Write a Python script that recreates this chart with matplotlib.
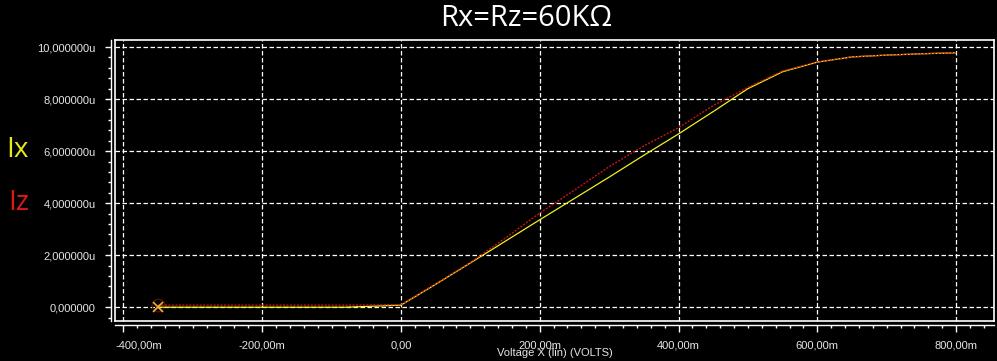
import matplotlib
matplotlib.use("Agg")
import matplotlib.pyplot as plt
from matplotlib.ticker import MultipleLocator, FixedLocator
import matplotlib.transforms as mtransforms

# ---- data (mV, µA) ----
voltage_mv = [-350, -80, 0, 50, 100, 150, 200, 250, 300, 350, 400, 450, 500, 550, 600, 650, 700, 750, 800]
ix_ua = [0.0, 0.0, 0.08, 0.88, 1.70, 2.53, 3.36, 4.18, 5.00, 5.84, 6.66, 7.52, 8.40, 9.05, 9.42, 9.62, 9.69, 9.74, 9.78]
iz_ua = [0.08, 0.08, 0.10, 0.90, 1.72, 2.65, 3.62, 4.50, 5.40, 6.20, 6.90, 7.75, 8.45, 9.08, 9.43, 9.62, 9.69, 9.74, 9.79]
marker_v = [-350]
marker_i = [0.02]

x_ticks = [-400, -200, 0, 200, 400, 600, 800]
x_labels = ["-400,00m", "-200,00m", "0,00", "200,00m", "400,00m", "600,00m", "800,00m"]
y_ticks = [0, 2, 4, 6, 8, 10]
y_labels = ["0,000000", "2,000000u", "4,000000u", "6,000000u", "8,000000u", "10,000000u"]

title = "Rx=Rz=60KΩ"
xlabel = "Voltage X (lin) (VOLTS)"

W, H = 997, 361
fig = plt.figure(figsize=(W / 100, H / 100), dpi=100, facecolor="black")

L, R, T, B = 115, 994, 40, 320.5
pos = [L / W, (H - B) / H, (R - L) / W, (B - T) / H]
xlim = (-412, 854.6)
ylim = (-0.51, 10.27)

ax = fig.add_axes(pos)
ax.set_facecolor("black")
ax.set_xlim(*xlim)
ax.set_ylim(*ylim)
for s in ax.spines.values():
    s.set_color("white")
    s.set_linewidth(1.2)
ax.tick_params(left=False, bottom=False, labelleft=False, labelbottom=False)
ax.xaxis.set_major_locator(FixedLocator(x_ticks))
ax.yaxis.set_major_locator(FixedLocator(y_ticks))
ax.grid(True, color="white", linestyle=(0, (3.6, 2.0)), linewidth=0.9)

# curves
ax.plot(voltage_mv, ix_ua, color="#f0f020", linewidth=0.9, zorder=3)
ax.plot(voltage_mv, iz_ua, color="#c81414", linewidth=1.0, linestyle=(0, (1.5, 1.0)), zorder=4)
ax.plot(marker_v, [0.09], marker="o", markersize=9, mfc="none", mec="#4a1208", mew=1.0, zorder=2)
ax.plot(marker_v, marker_i, marker="x", markersize=7, color="#f2b030", mew=1.2, linestyle="none", zorder=5)

# separate axis lines with ticks
ax2 = fig.add_axes(pos, sharex=ax, sharey=ax)
ax2.patch.set_visible(False)
for k in ("top", "right"):
    ax2.spines[k].set_visible(False)
ax2.spines["left"].set_position(("outward", 3))
ax2.spines["bottom"].set_position(("outward", 3))
for k in ("left", "bottom"):
    ax2.spines[k].set_color("white")
    ax2.spines[k].set_linewidth(1.0)
ax2.xaxis.set_major_locator(FixedLocator(x_ticks))
ax2.xaxis.set_minor_locator(MultipleLocator(20))
ax2.yaxis.set_major_locator(FixedLocator(y_ticks))
ax2.yaxis.set_minor_locator(MultipleLocator(0.4))
ax2.set_yticklabels(y_labels)
ax2.set_xticklabels([])
ax2.tick_params(axis="y", which="major", direction="out", length=4, width=1, color="white",
                labelcolor="#e6e6e6", labelsize=8, pad=7)
ax2.tick_params(axis="y", which="minor", direction="out", length=2, width=1, color="white")
ax2.tick_params(axis="x", which="major", direction="out", length=5, width=1, color="white")
ax2.tick_params(axis="x", which="minor", direction="out", length=2.5, width=1, color="white")
for lab in ax2.get_yticklabels():
    lab.set_fontfamily("Liberation Sans")

# x tick labels as text
trans = mtransforms.blended_transform_factory(ax.transData, fig.transFigure)
for v, lab in zip(x_ticks, x_labels):
    if v == x_ticks[0]:
        fig.text(L / W, (H - 345) / H, lab, ha="left", va="center", color="#e6e6e6",
                 fontsize=8, family="Liberation Sans")
    else:
        ax.text(v, (H - 345) / H, lab, transform=trans, ha="center", va="center",
                color="#e6e6e6", fontsize=8, family="Liberation Sans", clip_on=False)

fig.text((L + R) / 2 / W, (H - 353.5) / H, xlabel, ha="center", va="center",
         color="#e6e6e6", fontsize=8, family="Liberation Sans")

fig.text(526 / W, (H - 19) / H, title, ha="center", va="center", color="white",
         fontsize=21, family="Open Sans")
fig.text(6 / W, (H - 150) / H, "Ix", ha="left", va="center", color="#e8e81a",
         fontsize=20, family="Open Sans")
fig.text(8 / W, (H - 203) / H, "Iz", ha="left", va="center", color="#e01818",
         fontsize=20, family="Open Sans")

fig.savefig("out.png", dpi=100, facecolor="black")
